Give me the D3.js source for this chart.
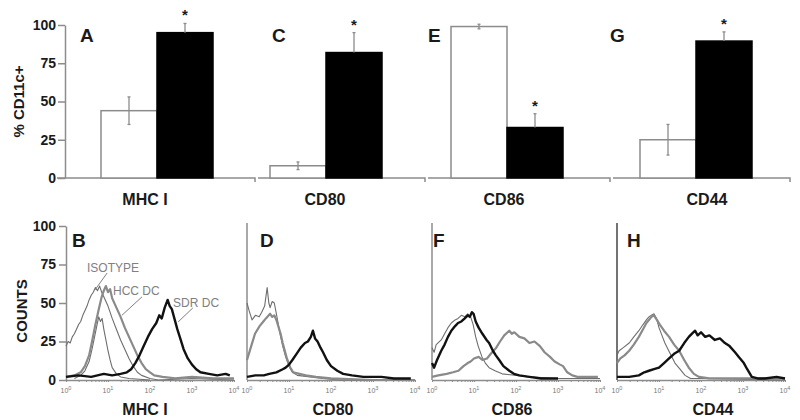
<!DOCTYPE html>
<html>
<head>
<meta charset="utf-8">
<script src="https://cdn.jsdelivr.net/npm/d3@7"></script>
<style>
  html, body { margin: 0; padding: 0; background: #fff; }
  svg { display: block; font-family: 'Liberation Sans', Arial, sans-serif; }
</style>
</head>
<body>
<svg id="chart" width="800" height="420"></svg>
<script>
// ---- data ----
const markers = ['MHC I', 'CD80', 'CD86', 'CD44']
const series = ['HCC DC', 'SDR DC']
const hccPct = [44, 8, 99, 25]
const hccErr = [9, 2.5, 1.5, 10]
const sdrPct = [95, 82, 33, 89.5]
const sdrErr = [6, 13, 9, 6]
const significant = [true, true, true, true]
const topLetters = ['A', 'C', 'E', 'G']
const bottomLetters = ['B', 'D', 'F', 'H']
const yTicks = [0, 25, 50, 75, 100]
const decades = [0, 1, 2, 3, 4]

// histograms: [log10 fluorescence, counts]
const isoMHC = [[0,22],[0.05,25],[0.1,24],[0.15,28],[0.2,30],[0.25,33],[0.3,36],[0.35,38],[0.4,42],[0.45,45],[0.5,48],[0.55,52],[0.6,55],[0.65,57],[0.7,60],[0.75,58],[0.8,61],[0.85,57],[0.9,54],[1.0,48],[1.1,40],[1.2,33],[1.3,26],[1.4,20],[1.5,14],[1.6,9],[1.7,5],[1.8,3],[2.0,1],[2.2,0],[3.0,1],[4.0,0]]
const narrowMHC = [[0.2,1],[0.35,3],[0.45,6],[0.55,12],[0.62,20],[0.68,28],[0.74,36],[0.78,41],[0.82,38],[0.86,40],[0.9,33],[0.95,26],[1.0,19],[1.05,13],[1.1,8],[1.2,4],[1.3,2],[1.5,1],[2.0,0]]
const hccMHC = [[0,2],[0.2,3],[0.35,5],[0.45,9],[0.55,16],[0.62,25],[0.7,36],[0.78,46],[0.85,54],[0.9,58],[0.95,61],[1.0,57],[1.05,59],[1.1,53],[1.2,47],[1.3,41],[1.4,34],[1.5,28],[1.6,22],[1.7,16],[1.8,11],[1.9,7],[2.0,5],[2.1,3],[2.3,2],[2.6,1],[3.0,2],[3.5,1],[4.0,1]]
const sdrMHC = [[0,2],[0.3,3],[0.6,2],[0.9,4],[1.1,3],[1.3,4],[1.45,5],[1.55,7],[1.65,11],[1.75,16],[1.85,22],[1.95,28],[2.05,33],[2.15,37],[2.22,42],[2.28,40],[2.35,47],[2.42,52],[2.47,48],[2.52,46],[2.58,40],[2.65,33],[2.72,27],[2.8,20],[2.9,14],[3.0,10],[3.1,7],[3.2,5],[3.4,4],[3.6,3],[3.8,4],[3.9,3]]

const isoCD80 = [[0,50],[0.05,45],[0.12,39],[0.2,42],[0.29,41],[0.35,44],[0.42,48],[0.48,60],[0.52,50],[0.55,47],[0.6,51],[0.65,50],[0.72,40],[0.77,32],[0.85,22],[0.92,15],[1.0,9],[1.08,5],[1.2,3],[1.5,2],[1.8,1],[2.2,0],[4,0]]
const hccCD80 = [[0,13],[0.1,22],[0.19,30],[0.3,35],[0.36,37],[0.45,40],[0.55,43],[0.6,41],[0.65,42],[0.7,39],[0.8,30],[0.85,24],[0.95,14],[1.03,8],[1.1,5],[1.25,4],[1.4,3],[1.64,2],[2,1],[3,0],[4,0]]
const sdrCD80 = [[0,2],[0.2,3],[0.4,3],[0.53,4],[0.7,5],[0.85,7],[0.92,8],[1.0,10],[1.08,13],[1.18,17],[1.28,21],[1.38,24],[1.45,25],[1.52,28],[1.57,32],[1.62,27],[1.68,25],[1.75,21],[1.81,18],[1.9,13],[2.0,9],[2.15,6],[2.29,4],[2.5,3],[2.77,2],[3.2,2],[3.5,1],[3.9,1]]

const isoCD86 = [[0,21],[0.05,18],[0.1,23],[0.22,26],[0.3,30],[0.38,34],[0.46,37],[0.55,39],[0.62,40],[0.7,42],[0.78,41],[0.85,43],[0.92,41],[0.98,36],[1.04,28],[1.1,22],[1.19,15],[1.27,11],[1.36,8],[1.5,6],[1.67,4],[2.01,3],[2.3,2],[3,1],[4,1]]
const sdrCD86 = [[0,11],[0.05,8],[0.12,13],[0.22,19],[0.3,23],[0.38,28],[0.46,32],[0.55,35],[0.62,37],[0.7,38],[0.78,40],[0.85,42],[0.9,41],[0.95,44],[0.99,43],[1.04,38],[1.11,34],[1.2,30],[1.3,26],[1.36,24],[1.45,19],[1.52,16],[1.6,13],[1.7,9],[1.84,6],[1.95,4],[2.08,3],[2.32,2],[2.6,1],[3,1]]
const hccCD86 = [[0,2],[0.15,3],[0.35,4],[0.5,5],[0.63,6],[0.75,9],[0.85,11],[0.92,12],[1.0,14],[1.11,15],[1.2,13],[1.31,14],[1.4,17],[1.53,21],[1.62,25],[1.72,29],[1.84,32],[1.9,30],[1.96,31],[2.08,28],[2.2,27],[2.32,24],[2.44,25],[2.57,22],[2.68,18],[2.81,15],[2.92,12],[3.05,10],[3.12,9],[3.22,5],[3.34,3],[3.46,2],[3.7,2],[3.95,2]]

const isoCD44 = [[0,16],[0.05,19],[0.15,21],[0.29,24],[0.4,28],[0.52,32],[0.62,36],[0.7,39],[0.76,41],[0.82,42],[0.88,43],[0.94,40],[1.0,34],[1.07,29],[1.14,24],[1.25,18],[1.38,11],[1.5,7],[1.62,3],[1.75,1],[2,1],[4,0]]
const hccCD44 = [[0,11],[0.08,14],[0.18,16],[0.29,19],[0.4,23],[0.52,28],[0.62,33],[0.7,37],[0.76,39],[0.82,41],[0.88,42],[0.95,39],[1.02,36],[1.12,32],[1.24,28],[1.36,23],[1.48,19],[1.6,13],[1.71,8],[1.83,4],[1.95,2],[2.2,1],[4,1]]
const sdrCD44 = [[0,2],[0.29,2],[0.52,3],[0.65,5],[0.76,6],[0.88,7],[1.0,8],[1.12,11],[1.24,14],[1.36,17],[1.48,19],[1.6,24],[1.71,28],[1.78,30],[1.86,32],[1.92,29],[2.0,31],[2.1,28],[2.2,29],[2.33,26],[2.45,27],[2.57,24],[2.68,22],[2.81,18],[2.9,15],[3.02,11],[3.1,7],[3.21,2],[3.35,1],[3.52,1],[3.8,2],[4,1]]

// ---- layout ----
const gray = '#8c8c8c'
const dark = '#1a1a1a'
const font = "'Liberation Sans', Arial, sans-serif"

const topPanel = { top: 25, base: 178 }
const topCenters = [157, 326, 507, 696]
const topSegments = [[65, 255], [258, 425], [428, 610], [613, 790]]
const topLetterX = [80, 272, 428, 610]
const topLabelX = [145, 325, 504, 707]

const botPanel = { top: 226, base: 380, decade: 42 }
const botX0 = [66, 247, 432, 617]
const botLetterX = [72, 260, 433, 627]
const botLabelX = [145, 333, 512, 713]

const svg = d3.select('#chart')

// ---- top row: bar charts ----
const yTop = d3.scaleLinear().domain([0, 100]).range([topPanel.base, topPanel.top])
const xGroup = d3.scaleOrdinal().domain(markers).range(topCenters)
const xInner = d3.scaleBand().domain(series).range([-56, 56]).paddingInner(0)

const bars = markers.map((m, i) => ({
  marker: m, i,
  values: [
    { series: series[0], value: hccPct[i], err: hccErr[i] },
    { series: series[1], value: sdrPct[i], err: sdrErr[i] }
  ]
}))

const yAxisTop = svg.append('g')
  .attr('transform', `translate(${topSegments[0][0]},0)`)
  .call(d3.axisLeft(yTop).tickValues(yTicks).tickSize(7).tickSizeOuter(0).tickPadding(2))
yAxisTop.select('.domain').attr('stroke', gray).attr('stroke-width', 1.5)
yAxisTop.selectAll('.tick line').attr('stroke', gray).attr('stroke-width', 1.5)
yAxisTop.selectAll('.tick text').attr('fill', dark).attr('font-size', 14).attr('font-weight', 'bold').attr('font-family', font)

svg.append('g').selectAll('path')
  .data(topSegments)
  .join('path')
  .attr('d', ([a, b], i) => `M${i === 0 ? a - 8 : a},${topPanel.base}H${b}v4`)
  .attr('fill', 'none')
  .attr('stroke', gray)
  .attr('stroke-width', 1.5)

const group = svg.append('g').selectAll('g')
  .data(bars)
  .join('g')
  .attr('transform', d => `translate(${xGroup(d.marker)},0)`)

group.selectAll('rect')
  .data(d => d.values)
  .join('rect')
  .attr('x', d => xInner(d.series))
  .attr('width', xInner.bandwidth())
  .attr('y', d => yTop(d.value))
  .attr('height', d => yTop(0) - yTop(d.value))
  .attr('fill', d => (d.series === series[0] ? '#fff' : '#000'))
  .attr('stroke', d => (d.series === series[0] ? gray : '#000'))
  .attr('stroke-width', 1.5)

// error bars
group.selectAll('line.err')
  .data(d => d.values)
  .join('line')
  .attr('class', 'err')
  .attr('x1', d => xInner(d.series) + xInner.bandwidth() / 2)
  .attr('x2', d => xInner(d.series) + xInner.bandwidth() / 2)
  .attr('y1', d => yTop(d.series === series[0] ? d.value - d.err : d.value))
  .attr('y2', d => yTop(d.value + d.err))
  .attr('stroke', gray)
  .attr('stroke-width', 1.3)

group.selectAll('line.cap')
  .data(d => d.values.flatMap(v => (v.series === series[0] ? [[v, v.value - v.err], [v, v.value + v.err]] : [[v, v.value + v.err]])))
  .join('line')
  .attr('class', 'cap')
  .attr('x1', ([v]) => xInner(v.series) + xInner.bandwidth() / 2 - 1.5)
  .attr('x2', ([v]) => xInner(v.series) + xInner.bandwidth() / 2 + 1.5)
  .attr('y1', ([, e]) => yTop(e))
  .attr('y2', ([, e]) => yTop(e))
  .attr('stroke', gray)
  .attr('stroke-width', 1.3)

group.filter(d => significant[d.i])
  .append('text')
  .attr('x', xInner(series[1]) + xInner.bandwidth() / 2)
  .attr('y', d => yTop(d.values[1].value + d.values[1].err) - 3)
  .attr('text-anchor', 'middle')
  .attr('font-size', 15)
  .attr('font-weight', 'bold')
  .attr('fill', dark)
  .text('*')

svg.append('g').selectAll('text')
  .data(topLetters)
  .join('text')
  .attr('x', (d, i) => topLetterX[i])
  .attr('y', 42)
  .attr('font-size', 19)
  .attr('font-weight', 'bold')
  .attr('fill', dark)
  .text(d => d)

svg.append('g').selectAll('text')
  .data(markers)
  .join('text')
  .attr('x', (d, i) => topLabelX[i])
  .attr('y', 205)
  .attr('text-anchor', 'middle')
  .attr('font-size', 16)
  .attr('font-weight', 'bold')
  .attr('fill', dark)
  .text(d => d)

svg.append('text')
  .attr('transform', `translate(24,${(topPanel.top + topPanel.base) / 2}) rotate(-90)`)
  .attr('text-anchor', 'middle')
  .attr('font-size', 15)
  .attr('font-weight', 'bold')
  .attr('fill', dark)
  .text('% CD11c+')

// ---- bottom row: histograms ----
const yBot = d3.scaleLinear().domain([0, 100]).range([botPanel.base, botPanel.top])

const histograms = [
  { lines: [[isoMHC, 'iso'], [narrowMHC, 'iso'], [hccMHC, 'hcc'], [sdrMHC, 'sdr']] },
  { lines: [[isoCD80, 'iso'], [hccCD80, 'hcc'], [sdrCD80, 'sdr']] },
  { lines: [[isoCD86, 'iso'], [hccCD86, 'hcc'], [sdrCD86, 'sdr']] },
  { lines: [[isoCD44, 'iso'], [hccCD44, 'hcc'], [sdrCD44, 'sdr']] }
]
const lineStyle = {
  iso: { stroke: '#6e6e6e', width: 1.1 },
  hcc: { stroke: '#8a8a8a', width: 2.2 },
  sdr: { stroke: '#111', width: 2.4 }
}

histograms.forEach((h, i) => {
  const x0 = botX0[i]
  const x = d3.scaleLog().domain([1, 1e4]).range([x0, x0 + 4 * botPanel.decade])
  const g = svg.append('g')

  // y axis
  if (i === 0) {
    const ya = g.append('g')
      .attr('transform', `translate(${x0},0)`)
      .call(d3.axisLeft(yBot).tickValues(yTicks).tickSize(7).tickSizeOuter(0).tickPadding(3))
    ya.select('.domain').attr('stroke', gray).attr('stroke-width', 1.5)
    ya.selectAll('.tick line').attr('stroke', gray).attr('stroke-width', 1.5)
    ya.selectAll('.tick text').attr('fill', dark).attr('font-size', 14).attr('font-weight', 'bold').attr('font-family', font)
  } else {
    g.append('line')
      .attr('x1', x0).attr('x2', x0)
      .attr('y1', botPanel.top - 3).attr('y2', botPanel.base)
      .attr('stroke', i === 3 ? '#444' : gray)
      .attr('stroke-width', 1.5)
  }

  // x axis with minor ticks
  const minor = d3.range(0, 4).flatMap(e => d3.range(1, 10).map(k => k * 10 ** e)).concat([1e4])
  const xa = g.append('g')
    .attr('transform', `translate(0,${botPanel.base})`)
    .call(d3.axisBottom(x).tickValues(minor).tickSize(2).tickSizeOuter(0).tickFormat(''))
  xa.select('.domain').attr('stroke', gray).attr('stroke-width', 1.3)
  xa.selectAll('.tick line')
    .attr('stroke', gray)
    .attr('y2', d => (Number.isInteger(Math.log10(d) + 1e-9) && Math.abs(Math.log10(d) - Math.round(Math.log10(d))) < 1e-6 ? 4 : 2))

  const lab = g.append('g').selectAll('text')
    .data(decades)
    .join('text')
    .attr('x', d => x(10 ** d))
    .attr('y', botPanel.base + 13)
    .attr('text-anchor', 'middle')
    .attr('font-size', 7)
    .attr('fill', '#777')
  lab.append('tspan').text('10')
  lab.append('tspan').attr('dy', -3).attr('font-size', 5.5).text(d => d)

  const line = d3.line()
    .x(d => x(10 ** d[0]))
    .y(d => yBot(d[1]))

  g.append('g').selectAll('path')
    .data(h.lines)
    .join('path')
    .attr('d', ([pts]) => line(pts))
    .attr('fill', 'none')
    .attr('stroke', ([, k]) => lineStyle[k].stroke)
    .attr('stroke-width', ([, k]) => lineStyle[k].width)
    .attr('stroke-linejoin', 'round')

  g.append('text')
    .attr('x', botLetterX[i])
    .attr('y', 247)
    .attr('font-size', 19)
    .attr('font-weight', 'bold')
    .attr('fill', dark)
    .text(bottomLetters[i])

  g.append('text')
    .attr('x', botLabelX[i])
    .attr('y', 415)
    .attr('text-anchor', 'middle')
    .attr('font-size', 16)
    .attr('font-weight', 'bold')
    .attr('fill', dark)
    .text(markers[i])

  // curve labels in panel B
  if (i === 0) {
    const notes = [
      { text: 'ISOTYPE', at: [0.5, 70], from: [0.98, 69.5], to: [0.69, 58.5] },
      { text: 'HCC DC', at: [1.12, 55], from: [1.81, 54], to: [1.33, 42] },
      { text: 'SDR DC', at: [2.55, 47.4], from: [3.02, 46.8], to: [2.67, 37.7] }
    ]
    const n = g.append('g').selectAll('g').data(notes).join('g')
    n.append('text')
      .attr('x', d => x(10 ** d.at[0]))
      .attr('y', d => yBot(d.at[1]))
      .attr('font-size', 12)
      .attr('fill', '#808080')
      .text(d => d.text)
    n.append('line')
      .attr('x1', d => x(10 ** d.from[0]))
      .attr('y1', d => yBot(d.from[1]))
      .attr('x2', d => x(10 ** d.to[0]))
      .attr('y2', d => yBot(d.to[1]))
      .attr('stroke', '#808080')
      .attr('stroke-width', 1)
  }
})

svg.append('text')
  .attr('transform', `translate(27,${(botPanel.top + botPanel.base) / 2 + 8}) rotate(-90)`)
  .attr('text-anchor', 'middle')
  .attr('font-size', 15)
  .attr('font-weight', 'bold')
  .attr('fill', dark)
  .text('COUNTS')
</script>
</body>
</html>
